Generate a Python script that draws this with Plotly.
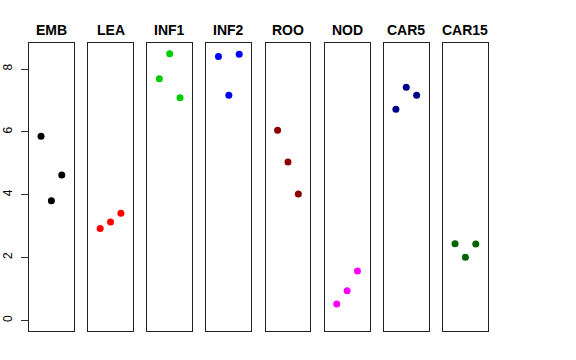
import plotly.graph_objects as go

W, H = 576, 360

groups = ["EMB", "LEA", "INF1", "INF2", "ROO", "NOD", "CAR5", "CAR15"]
colors = ["#000000", "#FF0000", "#00CD00", "#0000FF", "#8B0000", "#FF00FF", "#00008B", "#006400"]
replicate = [1, 2, 3]
values = {
    "EMB":   [5.86, 3.81, 4.63],
    "LEA":   [2.92, 3.13, 3.41],
    "INF1":  [7.69, 8.49, 7.09],
    "INF2":  [8.40, 7.17, 8.47],
    "ROO":   [6.05, 5.04, 4.02],
    "NOD":   [0.52, 0.94, 1.57],
    "CAR5":  [6.72, 7.42, 7.17],
    "CAR15": [2.44, 2.01, 2.43],
}
yticks = [0, 2, 4, 6, 8]

fig = go.Figure()

left0, pw = 29.0, 44.8
step = (443.0 - 29.0) / 7.0
y_top, y_bot = 43.0, 331.0
ymax = 8.49
ext = 0.04 * ymax
yrange = [0 - ext, ymax + ext]

for i, g in enumerate(groups):
    n = i + 1
    xa = "x" if n == 1 else f"x{n}"
    ya = "y" if n == 1 else f"y{n}"
    fig.add_trace(go.Scatter(
        x=replicate, y=values[g], mode="markers",
        marker=dict(color=colors[i], size=7),
        xaxis=xa, yaxis=ya, showlegend=False, hoverinfo="skip"))
    x0 = left0 + i * step
    dom = [x0 / W, (x0 + pw) / W]
    xkey = "xaxis" if n == 1 else f"xaxis{n}"
    ykey = "yaxis" if n == 1 else f"yaxis{n}"
    fig.update_layout(**{
        xkey: dict(domain=dom, range=[-0.16, 4.16], showgrid=False, zeroline=False,
                   showticklabels=False, ticks="", showline=True, mirror=True,
                   linecolor="#222222", linewidth=1, anchor=ya, fixedrange=True,
                   automargin=False),
        ykey: dict(domain=[1 - y_bot / H, 1 - y_top / H], range=yrange, showgrid=False,
                   zeroline=False, showline=True, mirror=True, linecolor="#222222",
                   linewidth=1, anchor=xa, automargin=False,
                   showticklabels=(n == 1), ticks="outside" if n == 1 else "",
                   tickvals=yticks if n == 1 else None, ticklen=7, tickcolor="#333333",
                   tickangle=-90, ticklabelstandoff=4,
                   tickfont=dict(family="Liberation Sans", size=12, color="#000000"),
                   fixedrange=True),
    })
    fig.add_annotation(x=(x0 + pw / 2) / W, y=1 - 29.5 / H, xref="paper", yref="paper",
                       text=f"<b>{g}</b>", showarrow=False, xanchor="center", yanchor="middle",
                       font=dict(family="Liberation Sans", size=14, color="#000000"))

fig.update_layout(width=W, height=H, margin=dict(l=0, r=0, t=0, b=0),
                  plot_bgcolor="white", paper_bgcolor="white")

fig.write_html("out.html", config={"displayModeBar": False},
               post_script="document.body.style.margin='0px';document.body.style.padding='0px';")
